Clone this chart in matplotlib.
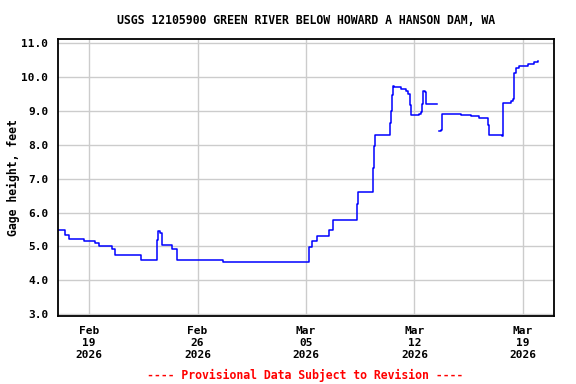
import numpy as np
import pandas as pd
import matplotlib
matplotlib.use("Agg")
import matplotlib.pyplot as plt

# Gage height readings: days after 2026-02-17 00:00 and value in feet (NaN = gap)
days = [0.00, 0.45, 0.73, 1.70, 2.39, 2.67, 3.47, 3.68, 5.35, 6.38, 6.44,
        6.48, 6.60, 6.70, 7.35, 7.67, 10.65, 16.18, 16.40, 16.48, 16.68,
        17.47, 17.74, 19.31, 19.37, 20.34, 20.41, 20.47, 20.56, 21.42,
        21.46, 21.53, 21.59, 21.67, 22.11, 22.43, 22.58, 22.69, 22.75,
        23.08, 23.27, 23.40, 23.46, 23.53, 23.66, 23.72, 24.48, 24.61,
        24.69, 24.76, 25.02, 25.99, 26.63, 27.15, 27.60, 27.71, 27.82,
        28.64, 28.72, 29.22, 29.33, 29.43, 29.54, 29.73, 30.32, 30.70,
        30.98]
height = [5.47, 5.33, 5.21, 5.15, 5.10, 5.00, 4.92, 4.75, 4.60, 5.20, 5.40,
          5.45, 5.40, 5.03, 4.93, 4.60, 4.55, 4.98, 5.16, 5.16, 5.32,
          5.49, 5.78, 6.24, 6.62, 7.33, 7.96, 8.29, 8.30, 8.65,
          9.00, 9.46, 9.73, 9.70, 9.66, 9.60, 9.50, 9.19, 8.88,
          8.88, 8.92, 8.98, 9.20, 9.60, 9.56, 9.20, np.nan, 8.41,
          8.45, 8.92, 8.90, 8.88, 8.84, 8.80, 8.78, 8.60, 8.28,
          8.27, 9.24, 9.30, 9.36, 10.13, 10.28, 10.32, 10.40, 10.45,
          10.48]
tick_days = ["2026-02-19", "2026-02-26", "2026-03-05", "2026-03-12", "2026-03-19"]
tick_text = ["Feb\n19\n2026", "Feb\n26\n2026", "Mar\n05\n2026",
             "Mar\n12\n2026", "Mar\n19\n2026"]
y_ticks = [3.0, 4.0, 5.0, 6.0, 7.0, 8.0, 9.0, 10.0, 11.0]

t0 = pd.Timestamp("2026-02-17")
when = t0 + pd.to_timedelta(days, unit="D")

plt.rcParams["font.family"] = ["DejaVu Sans Mono"]
plt.rcParams["font.weight"] = "bold"

fig = plt.figure(figsize=(5.76, 3.84), dpi=100)
ax = fig.add_axes([0.1007, 0.1771, 0.8611, 0.7213])

ax.plot(when, height, color="#0000FF", lw=1.1, drawstyle="steps-post")

ax.set_xlim(t0, pd.Timestamp("2026-03-21"))
ax.set_ylim(2.94, 11.13)
ax.set_yticks(y_ticks)
ax.set_yticklabels([f"{v:.1f}" for v in y_ticks], fontsize=8, fontweight="bold")
ax.set_xticks(pd.to_datetime(tick_days))
ax.set_xticklabels(tick_text, fontsize=8, fontweight="bold", linespacing=1.25)
ax.tick_params(length=0, pad=7)
ax.grid(True, color="#cccccc", lw=1)
ax.set_axisbelow(True)
for s in ax.spines.values():
    s.set_linewidth(1.3)

ax.set_ylabel("Gage height, feet", fontsize=8.3, fontweight="bold", labelpad=1)
ax.set_title("USGS 12105900 GREEN RIVER BELOW HOWARD A HANSON DAM, WA",
             fontsize=8.3, fontweight="bold", pad=11)
fig.text(0.53, 0.013, "---- Provisional Data Subject to Revision ----",
         color="red", fontsize=8.3, fontweight="bold", ha="center")

fig.savefig("out.png", dpi=100)
